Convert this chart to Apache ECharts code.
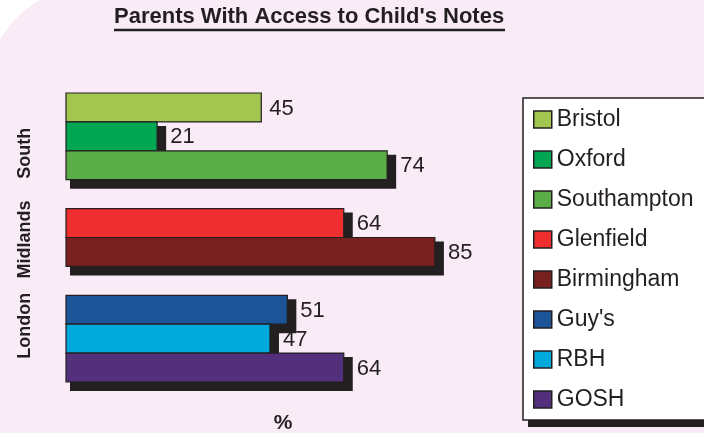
<!DOCTYPE html>
<html>
<head>
<meta charset="utf-8">
<script src="https://cdn.jsdelivr.net/npm/echarts@6/dist/echarts.min.js"></script>
<style>html,body{margin:0;padding:0;background:#fff;}#c{width:704px;height:433px;}</style>
</head>
<body>
<div id="c"></div>
<script>
const regions = ['South', 'Midlands', 'London'];
const hospitals = ['Bristol', 'Oxford', 'Southampton', 'Glenfield', 'Birmingham', "Guy's", 'RBH', 'GOSH'];
const hospitalRegion = ['South', 'South', 'South', 'Midlands', 'Midlands', 'London', 'London', 'London'];
const values = [45, 21, 74, 64, 85, 51, 47, 64];
const colors = ['#a3c651', '#00a651', '#5aad47', '#ee2e2f', '#781f1f', '#1b5497', '#00a9dc', '#53307b'];

// build slots: hospitals grouped by region, one empty slot between regions
const slots = [];
const slotOf = {};
regions.forEach((r, ri) => {
  hospitals.forEach((h, i) => {
    if (hospitalRegion[i] === r) { slotOf[h] = slots.length; slots.push(h); }
  });
  if (ri < regions.length - 1) slots.push(' '.repeat(ri + 1));
});

const FONT = "'Liberation Sans', Arial, sans-serif";
const DARK = '#231f20';

function makeRenderer(withShadow) {
  return function (params, api) {
    const v = api.value(0);
    const slot = api.value(1);
    const p0 = api.coord([0, slot]);
    const p1 = api.coord([v, slot]);
    const h = api.size([0, 1])[1];
    const x = p0[0], y = p0[1] - h / 2, w = p1[0] - p0[0];
    const children = [];
    if (withShadow) {
      children.push({ type: 'rect', shape: { x: x + 4, y: y + 4, width: w + 5, height: h + 5 }, style: { fill: DARK } });
    }
    children.push({ type: 'rect', shape: { x: x, y: y, width: w, height: h },
      style: { fill: api.visual('color'), stroke: DARK, lineWidth: 1.2 } });
    children.push({ type: 'text', style: {
      text: String(v), x: x + w + (withShadow ? 13 : 8), y: p0[1] + 1,
      align: 'left', verticalAlign: 'middle', fill: DARK,
      fontSize: 22, fontFamily: FONT } });
    return { type: 'group', children: children };
  };
}

const series = hospitals.map((h, i) => ({
  name: h,
  type: 'custom',
  xAxisIndex: 0,
  yAxisIndex: 0,
  renderItem: makeRenderer(i !== 0),
  encode: { x: 0, y: 1 },
  data: [[values[i], slotOf[h]]],
  itemStyle: { color: colors[i], borderColor: DARK, borderWidth: 1.2 },
  emphasis: { disabled: true }
}));

const chart = echarts.init(document.getElementById('c'), null, { renderer: 'canvas' });
chart.setOption({
  animation: false,
  backgroundColor: '#ffffff',
  graphic: [
    {
      type: 'rect', z: -100, silent: true,
      shape: { x: -15, y: -15, width: 740, height: 452, r: [110, 0, 0, 14] },
      style: { fill: '#f9ecf6' }
    },
    {
      type: 'rect', z: -50, silent: true,
      shape: { x: 528, y: 105, width: 200, height: 322 },
      style: { fill: DARK }
    },
    {
      type: 'line', z: 10, silent: true,
      shape: { x1: 114, y1: 30, x2: 505, y2: 30 },
      style: { stroke: DARK, lineWidth: 2.5 }
    }
  ],
  title: {
    text: "Parents With Access to Child's Notes",
    left: 114,
    top: 6,
    padding: 0,
    textStyle: { fontFamily: FONT, fontSize: 22, fontWeight: 'bold', color: DARK, lineHeight: 22 }
  },
  legend: {
    orient: 'vertical',
    left: 523,
    top: 98,
    padding: [10, 30, 9, 10],
    itemGap: 17,
    itemWidth: 18,
    itemHeight: 17,
    icon: 'rect',
    backgroundColor: '#ffffff',
    borderColor: DARK,
    borderWidth: 1.5,
    itemStyle: { borderWidth: 1.5, borderColor: DARK },
    textStyle: { fontFamily: FONT, fontSize: 23, color: DARK, lineHeight: 23 },
    data: hospitals
  },
  grid: [
    { left: 66, right: 204, top: 93, bottom: 51, containLabel: false, outerBoundsMode: 'none' },
    { left: 66, right: 204, top: 110, bottom: 64, containLabel: false, outerBoundsMode: 'none' }
  ],
  xAxis: [
    {
      gridIndex: 0,
      type: 'value',
      min: 0,
      max: 100,
      axisLine: { show: false },
      axisTick: { show: false },
      axisLabel: { show: false },
      splitLine: { show: false },
      name: '%',
      nameLocation: 'middle',
      nameGap: 31,
      nameTextStyle: { fontFamily: FONT, fontSize: 21, fontWeight: 'bold', color: DARK }
    },
    {
      gridIndex: 1,
      type: 'value',
      show: false
    }
  ],
  yAxis: [
    {
      gridIndex: 0,
      type: 'category',
      inverse: true,
      data: slots,
      axisLine: { show: false },
      axisTick: { show: false },
      axisLabel: { show: false },
      splitLine: { show: false }
    },
    {
      gridIndex: 1,
      type: 'category',
      inverse: true,
      data: regions,
      axisLine: { show: false },
      axisTick: { show: false },
      splitLine: { show: false },
      axisLabel: {
        interval: 0,
        hideOverlap: false,
        rotate: 90,
        margin: 32,
        fontFamily: FONT,
        fontSize: 18,
        fontWeight: 'bold',
        color: DARK
      }
    }
  ],
  series: series
});
</script>
</body>
</html>
